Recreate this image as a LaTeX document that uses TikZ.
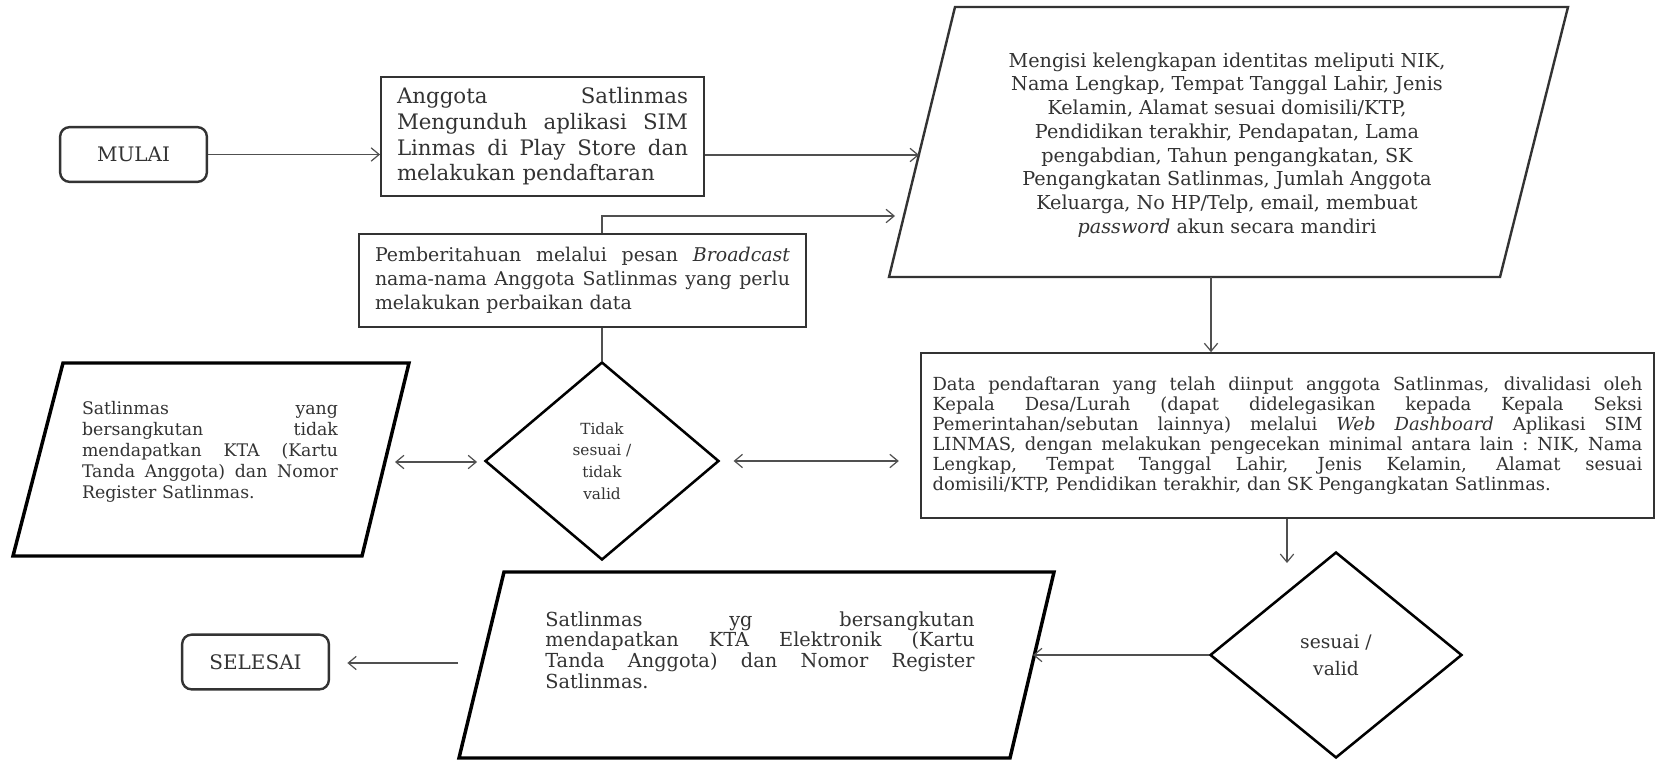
\documentclass[tikz,border=0pt]{standalone}
\usepackage{fontspec}
\setmainfont{DejaVu Serif}
\usetikzlibrary{shapes.geometric,arrows.meta}
\definecolor{txt}{HTML}{333333}
\definecolor{ln}{HTML}{505050}
\newcommand\jl[1]{\leavevmode\hbox to \hsize{\spaceskip=\fontdimen2\font plus 1fil\relax\xspaceskip=\spaceskip #1}\\}
\begin{document}
\begin{tikzpicture}[x=0.75pt,y=-0.75pt,
  conn/.style={draw=ln,line width=0.9pt,-{Straight Barb[length=6pt,width=10pt]}},
  dconn/.style={draw=ln,line width=0.9pt,{Straight Barb[length=6pt,width=10pt]}-{Straight Barb[length=6pt,width=10pt]}},
  plain/.style={draw=ln,line width=0.9pt},
  term/.style={draw=black!80,line width=1.8pt,rounded corners=7pt,minimum width=110pt,minimum height=41pt,font=\fontsize{15}{18}\selectfont,text=txt},
  procbox/.style={draw=black!80,line width=1.4pt,inner sep=0pt,text=txt,align=left},
  decision/.style={diamond,draw=black,line width=1.9pt,inner sep=0pt,text=txt,align=center},
  iobox/.style={draw=black,line width=2.6pt,line join=miter},
  iothin/.style={draw=black!80,line width=1.8pt,line join=miter},
  iotext/.style={text=txt,inner sep=0pt,align=left},
]
\useasboundingbox (0,0) rectangle (1656,760);
\fill[white] (0,0) rectangle (1656,760);

% start / end
\node[term] (mulai) at (133.5,154.5) {MULAI};
\node[term] (selesai) at (255.5,662) {SELESAI};

% process box 1
\node[procbox,minimum width=242.25pt,minimum height=89.25pt,text width=218.25pt,
  font=\fontsize{16}{19.3}\selectfont] (anggota) at (542.5,136.5)
  {\jl{Anggota Satlinmas}\jl{Mengunduh aplikasi SIM}\jl{Linmas di Play Store dan}melakukan pendaftaran};

% input parallelogram (top)
\coordinate (p1tl) at (955,7);
\coordinate (p1tr) at (1568,7);
\coordinate (p1br) at (1500,277);
\coordinate (p1bl) at (889,277);
\draw[iothin] (p1tl) -- (p1tr) -- (p1br) -- (p1bl) -- cycle;
\node[text=txt,align=center,font=\fontsize{14.4}{17.8}\selectfont] (p1) at (1227,145)
  {Mengisi kelengkapan identitas meliputi NIK,\\
   Nama Lengkap, Tempat Tanggal Lahir, Jenis\\
   Kelamin, Alamat sesuai domisili/KTP,\\
   Pendidikan terakhir, Pendapatan, Lama\\
   pengabdian, Tahun pengangkatan, SK\\
   Pengangkatan Satlinmas, Jumlah Anggota\\
   Keluarga, No HP/Telp, email, membuat\\
   \textit{password} akun secara mandiri};
\coordinate (p1a) at (919,155);
\coordinate (p1b) at (895,216);
\coordinate (p1s) at (1211,277);

% broadcast box
\node[procbox,minimum width=335.25pt,minimum height=69.75pt,text width=311.25pt,
  font=\fontsize{14.2}{18}\selectfont] (bcast) at (582.5,280.5)
  {\jl{Pemberitahuan melalui pesan \textit{Broadcast}}\jl{nama-nama Anggota Satlinmas yang perlu}melakukan perbaikan data};

% decision: tidak valid
\node[decision,minimum width=175.5pt,minimum height=148.5pt,font=\fontsize{11.5}{16.3}\selectfont]
  (tidak) at (602,461) {Tidak\\sesuai /\\tidak\\valid};

% left parallelogram
\coordinate (p2tl) at (63,363);
\coordinate (p2tr) at (409,363);
\coordinate (p2br) at (362,556);
\coordinate (p2bl) at (13,556);
\draw[iobox] (p2tl) -- (p2tr) -- (p2br) -- (p2bl) -- cycle;
\node[iotext,text width=192pt,font=\fontsize{13}{15.75}\selectfont] (p2) at (210,452)
  {\jl{Satlinmas yang}\jl{bersangkutan tidak}\jl{mendapatkan KTA (Kartu}\jl{Tanda Anggota) dan Nomor}Register Satlinmas.};
\coordinate (p2e) at (395,462);

% data validation box
\node[procbox,line width=1.3pt,minimum width=549.75pt,minimum height=123.75pt,text width=532.5pt,
  font=\fontsize{13.5}{15}\selectfont] (data) at (1287.5,435.5)
  {\jl{Data pendaftaran yang telah diinput anggota Satlinmas, divalidasi oleh}%
   \jl{Kepala Desa/Lurah (dapat didelegasikan kepada Kepala Seksi}%
   \jl{Pemerintahan/sebutan lainnya) melalui \textit{Web Dashboard} Aplikasi SIM}%
   \jl{LINMAS, dengan melakukan pengecekan minimal antara lain : NIK, Nama}%
   \jl{Lengkap, Tempat Tanggal Lahir, Jenis Kelamin, Alamat sesuai}%
   domisili/KTP, Pendidikan terakhir, dan SK Pengangkatan Satlinmas.};

% decision: valid
\node[decision,minimum width=189pt,minimum height=154.5pt,font=\fontsize{14}{20}\selectfont]
  (valid) at (1336,655) {sesuai /\\valid};
\coordinate (vin) at (1287,563);

% bottom parallelogram
\coordinate (p3tl) at (504,572);
\coordinate (p3tr) at (1054,572);
\coordinate (p3br) at (1010,758);
\coordinate (p3bl) at (459,758);
\draw[iobox] (p3tl) -- (p3tr) -- (p3br) -- (p3bl) -- cycle;
\node[iotext,text width=322pt,font=\fontsize{14.5}{15.6}\selectfont] (p3) at (760,650)
  {\jl{Satlinmas yg bersangkutan}\jl{mendapatkan KTA Elektronik (Kartu}\jl{Tanda Anggota) dan Nomor Register}Satlinmas.};
\coordinate (p3e) at (1033,655);
\coordinate (p3w) at (458,663);

% connectors
\draw[conn] (mulai.east) -- (mulai.east -| anggota.west);
\draw[conn] (anggota.east |- p1a) -- (p1a);
\draw[conn] (tidak.north |- bcast.north) |- (p1b);
\draw[plain] (tidak.north |- bcast.south) -- (tidak.north);
\draw[dconn,shorten >=5pt] (p2e) -- (p2e -| tidak.west);
\draw[dconn,shorten <=10pt,shorten >=16pt] (tidak.east) -- (tidak.east -| data.west);
\draw[conn] (p1s) -- (p1s |- data.north);
\draw[conn] (data.south -| vin) -- (vin);
\draw[conn] (valid.west) -- (p3e);
\draw[conn,shorten >=13pt] (p3w) -- (p3w -| selesai.east);
\end{tikzpicture}
\end{document}
